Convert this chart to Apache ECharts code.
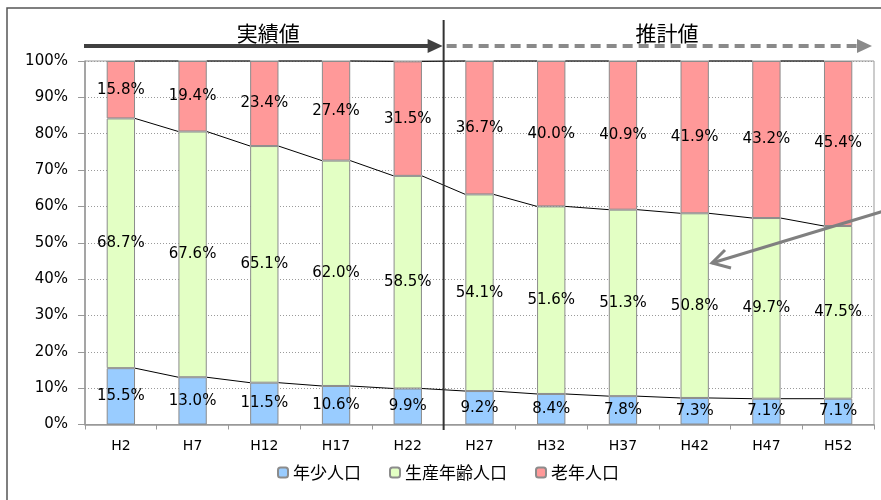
<!DOCTYPE html>
<html>
<head>
<meta charset="utf-8">
<script src="https://cdn.jsdelivr.net/npm/echarts@6/dist/echarts.min.js"></script>
<style>
  html, body { margin: 0; padding: 0; background: #fff; }
  #chart { width: 881px; height: 500px; }
</style>
</head>
<body>
<div id="chart"></div>
<script>
// 年齢3区分別人口構成比（%）
const categories = ['H2', 'H7', 'H12', 'H17', 'H22', 'H27', 'H32', 'H37', 'H42', 'H47', 'H52'];
const youth   = [15.5, 13.0, 11.5, 10.6, 9.9, 9.2, 8.4, 7.8, 7.3, 7.1, 7.1];
const working = [68.7, 67.6, 65.1, 62.0, 58.5, 54.1, 51.6, 51.3, 50.8, 49.7, 47.5];
const elderly = [15.8, 19.4, 23.4, 27.4, 31.5, 36.7, 40.0, 40.9, 41.9, 43.2, 45.4];
const seriesNames = ['年少人口', '生産年齢人口', '老年人口'];
const yTicks = [0, 10, 20, 30, 40, 50, 60, 70, 80, 90, 100];
const lastActualIndex = 4; // H22 まで実績値、以降は推計値

const BAR_RATIO = 0.395;
const NUM_FONT = 'DejaVu Sans, "Noto Sans CJK JP", sans-serif';
const JP_FONT = '"Noto Sans CJK JP", sans-serif';

// 区分線（積み上げ境界）の累積値
const levelLow = youth.slice();
const levelMid = youth.map((v, i) => v + working[i]);
const levelTop = youth.map((v, i) => v + working[i] + elderly[i]);
const levels = [levelLow, levelMid, levelTop];

const chart = echarts.init(document.getElementById('chart'), null, { renderer: 'canvas' });

const labelCfg = {
  show: true,
  position: 'inside',
  color: '#000',
  fontFamily: NUM_FONT,
  fontSize: 15,
  formatter: p => p.value.toFixed(1) + '%'
};

function barSeries(name, data, color) {
  return {
    name: name,
    type: 'bar',
    stack: 'total',
    barWidth: (BAR_RATIO * 100) + '%',
    data: data,
    itemStyle: { color: color, borderColor: '#8c8c8c', borderWidth: 1 },
    label: labelCfg,
    emphasis: { disabled: true }
  };
}

chart.setOption({
  animation: false,
  grid: { left: 85, right: 7, top: 61, bottom: 75.5, show: true, borderColor: '#999', borderWidth: 1 },
  legend: {
    data: seriesNames,
    left: 277,
    top: 464,
    padding: 0,
    itemWidth: 10,
    itemHeight: 10,
    itemGap: 28,
    textStyle: { fontFamily: JP_FONT, fontSize: 17, color: '#000' }
  },
  xAxis: {
    type: 'category',
    data: categories,
    boundaryGap: true,
    axisLine: { lineStyle: { color: '#999', width: 1.5 } },
    axisTick: { show: true, length: 5, lineStyle: { color: '#999' } },
    axisLabel: { color: '#000', fontFamily: NUM_FONT, fontSize: 14, margin: 15 }
  },
  yAxis: {
    type: 'value',
    min: yTicks[0],
    max: yTicks[yTicks.length - 1],
    interval: 10,
    axisLine: { show: true, lineStyle: { color: '#999', width: 1.5 } },
    axisTick: { show: true, length: 7, lineStyle: { color: '#999' } },
    axisLabel: { color: '#000', fontFamily: NUM_FONT, fontSize: 15, margin: 17, formatter: '{value}%' },
    splitLine: { show: true, lineStyle: { color: '#9a9a9a', type: [1, 2], width: 1 } }
  },
  series: [
    barSeries(seriesNames[0], youth, '#99ccff'),
    barSeries(seriesNames[1], working, '#e3ffc4'),
    barSeries(seriesNames[2], elderly, '#ff9999'),
    {
      // 棒同士をつなぐ区分線
      type: 'custom',
      name: 'serieslines',
      data: categories.slice(0, -1).map((c, i) => [i]),
      encode: { x: 0 },
      silent: true,
      z: 3,
      renderItem: function (params, api) {
        const i = api.value(0);
        const half = api.size([1, 0])[0] * BAR_RATIO / 2;
        return {
          type: 'group',
          children: levels.map(lv => {
            const a = api.coord([i, lv[i]]);
            const b = api.coord([i + 1, lv[i + 1]]);
            return {
              type: 'line',
              shape: { x1: a[0] + half, y1: a[1], x2: b[0] - half, y2: b[1] },
              style: { stroke: '#000', lineWidth: 1 }
            };
          })
        };
      }
    }
  ]
});

// 実績値／推計値の区切りと注記
const xA = chart.convertToPixel({ xAxisIndex: 0 }, lastActualIndex);
const xB = chart.convertToPixel({ xAxisIndex: 0 }, lastActualIndex + 1);
const sepX = (xA + xB) / 2;
const plotLeft = 85;
const plotRight = 881 - 7;
const arrowY = 46;

chart.setOption({
  graphic: [
    {
      type: 'rect',
      shape: { x: 7, y: 8, width: 1000, height: 1000 },
      style: { fill: 'none', stroke: '#555', lineWidth: 1.5 },
      silent: true
    },
    {
      type: 'line',
      shape: { x1: sepX, y1: 20, x2: sepX, y2: 430 },
      style: { stroke: '#333', lineWidth: 2 },
      z: 10
    },
    {
      type: 'line',
      shape: { x1: plotLeft - 1, y1: arrowY, x2: sepX - 14, y2: arrowY },
      style: { stroke: '#404040', lineWidth: 4 }
    },
    {
      type: 'polygon',
      shape: { points: [[sepX - 16, arrowY - 7], [sepX - 1, arrowY], [sepX - 16, arrowY + 7]] },
      style: { fill: '#404040' }
    },
    {
      type: 'line',
      shape: { x1: sepX + 3, y1: arrowY, x2: plotRight - 16, y2: arrowY },
      style: { stroke: '#8a8a8a', lineWidth: 4, lineDash: [10, 6] }
    },
    {
      type: 'polygon',
      shape: { points: [[plotRight - 17, arrowY - 7], [plotRight - 2, arrowY], [plotRight - 17, arrowY + 7]] },
      style: { fill: '#8a8a8a' }
    },
    {
      type: 'text',
      style: {
        text: '実績値', x: (plotLeft + sepX) / 2 + 4, y: 33,
        textAlign: 'center', textVerticalAlign: 'middle',
        font: '21px "Noto Sans CJK JP", sans-serif', fill: '#000'
      }
    },
    {
      type: 'text',
      style: {
        text: '推計値', x: 667, y: 33,
        textAlign: 'center', textVerticalAlign: 'middle',
        font: '21px "Noto Sans CJK JP", sans-serif', fill: '#000'
      }
    },
    // 生産年齢人口を指す引き出し矢印
    {
      type: 'polyline',
      shape: { points: [[884, 211], [712, 263]] },
      style: { stroke: '#808080', lineWidth: 3 },
      z: 10
    },
    {
      type: 'polyline',
      shape: { points: [[725, 250], [712, 263], [731, 268]] },
      style: { stroke: '#808080', lineWidth: 3, fill: 'none', lineJoin: 'miter' },
      z: 10
    }
  ]
});
</script>
</body>
</html>
